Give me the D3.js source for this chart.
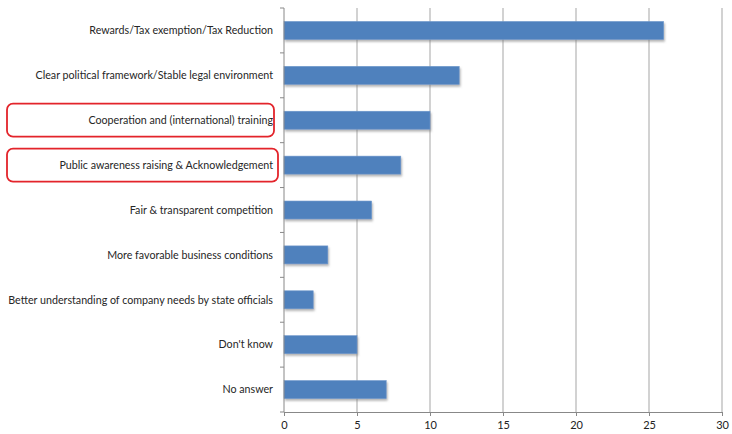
<!DOCTYPE html>
<html><head><meta charset="utf-8">
<script src="https://cdn.jsdelivr.net/npm/d3@7"></script>
<style>body{margin:0;background:#fff;}svg{display:block;}</style>
</head><body>
<svg id="c" width="732" height="434"></svg>
<script>
const categories = ["Rewards/Tax exemption/Tax Reduction","Clear political framework/Stable legal environment","Cooperation and (international) training","Public awareness raising & Acknowledgement","Fair & transparent competition","More favorable business conditions","Better understanding of company needs by state officials","Don't know","No answer"];
const values = [26,12,10,8,6,3,2,5,7];
const xTicks = [0,5,10,15,20,25,30];
const highlighted = ["Cooperation and (international) training","Public awareness raising & Acknowledgement"];

const svg = d3.select("#c");
const m = {left:284, right:722, top:8, bottom:412};
const x = d3.scaleLinear().domain([0,30]).range([m.left, m.right]);
const y = d3.scaleBand().domain(categories).range([m.top, m.bottom]).paddingInner(0.6).paddingOuter(0.3);
const font = "Lato, sans-serif";

const defs = svg.append("defs");
const f = defs.append("filter").attr("id","sh").attr("x","-5%").attr("y","-30%").attr("width","120%").attr("height","190%");
f.append("feDropShadow").attr("dx",1).attr("dy",2).attr("stdDeviation",1).attr("flood-color","#777").attr("flood-opacity",0.55);

// gridlines
svg.append("g").selectAll("line").data(xTicks.filter(d=>d>0)).join("line")
  .attr("x1",d=>x(d)).attr("x2",d=>x(d)).attr("y1",m.top).attr("y2",m.bottom)
  .attr("stroke","#b4b4b4").attr("stroke-width",1.2);

// bars
svg.append("g").selectAll("rect").data(categories).join("rect")
  .attr("x",x(0)).attr("y",d=>y(d)).attr("width",(d,i)=>x(values[i])-x(0)).attr("height",y.bandwidth())
  .attr("fill","#4f81bd").attr("stroke","#6f98cc").attr("stroke-width",0.6).attr("filter","url(#sh)");

// x axis
const xa = svg.append("g").attr("transform",`translate(0,${m.bottom})`)
  .call(d3.axisBottom(x).tickValues(xTicks).tickSize(4).tickSizeOuter(0));
xa.select(".domain").attr("stroke","#888");
xa.selectAll(".tick line").attr("stroke","#888");
xa.selectAll("text").attr("font-family",font).attr("font-size",11).attr("fill","#222").attr("dy","0.9em");

// y axis
const yBounds = d3.range(categories.length+1).map(i=>m.top + i*(m.bottom-m.top)/categories.length);
svg.append("line").attr("x1",m.left).attr("x2",m.left).attr("y1",m.top).attr("y2",m.bottom).attr("stroke","#888");
svg.append("g").selectAll("line").data(yBounds).join("line")
  .attr("x1",m.left-4).attr("x2",m.left).attr("y1",d=>d).attr("y2",d=>d).attr("stroke","#888");

svg.append("g").selectAll("text").data(categories).join("text")
  .attr("x",273).attr("y",d=>y(d)+y.bandwidth()/2).attr("dy","0.35em").attr("text-anchor","end")
  .attr("font-family",font).attr("font-size",10.7).attr("fill","#262626").text(d=>d);

// highlight boxes
const boxes = [{c:highlighted[0], x0:7, x1:274},{c:highlighted[1], x0:7, x1:278}];
svg.append("g").selectAll("rect").data(boxes).join("rect")
  .attr("x",d=>d.x0).attr("width",d=>d.x1-d.x0)
  .attr("y",d=>y(d.c)+y.bandwidth()/2-16.5).attr("height",33)
  .attr("rx",6).attr("fill","none").attr("stroke","#e3242b").attr("stroke-width",1.8);
</script>
</body></html>
